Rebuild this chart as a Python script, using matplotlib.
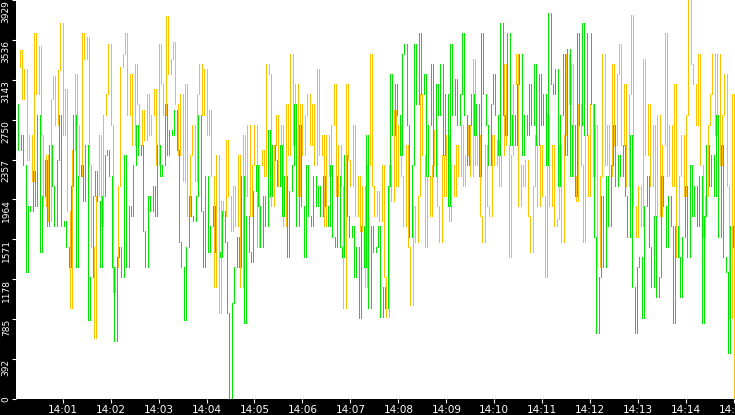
import matplotlib
matplotlib.use("Agg")
import matplotlib.pyplot as plt
import matplotlib.dates as mdates
import pandas as pd
import numpy as np

# ---- data (3-second samples) ----
orange_a = [3270, 3440, 2950, 3250, 2350, 2600, 2150, 3600, 3000, 3480,
            2600, 1900, 2400, 1750, 2950, 3180, 2700, 3240, 3700, 2600,
            3050, 1850, 900, 2450, 3200, 2700, 2200, 3600, 3350, 3560,
            2300, 1500, 600, 2000, 2600, 1700, 2800, 3000, 3500, 2700,
            1050, 1300, 2100, 3270, 3400, 3600, 2800, 3200, 2500, 3300,
            2900, 2500, 2850, 2550, 3000, 2600, 2800, 3050, 2300, 3500,
            3100, 2800, 3770, 3200, 3350, 3520, 2900, 2400, 3000, 2150,
            3100, 1800, 2400, 2700, 2150]
orange_b = [3000, 3300, 2800, 3250, 2600, 2850, 2200, 1100, 2400, 850,
            1950, 1800, 2550, 2000, 1650, 2100, 1700, 2400, 1100, 2600,
            2000, 2700, 1800, 2300, 2700, 1500, 2300, 2450, 2200, 3300,
            3200, 1900, 2500, 2800, 2100, 2700, 1700, 2900, 2400, 3400,
            2500, 3100, 2000, 2900, 2400, 2800, 3000, 2500, 2900, 2300,
            3250, 2400, 2600, 1700, 2600, 2200, 2700, 3100, 2000, 2500,
            2100, 900, 3100, 2350, 2100, 2700, 1800, 2200, 1650, 2100,
            1100, 2300, 3400, 2100, 1800]
orange_c = [2050, 1750, 2300, 1200, 810, 2300, 1950, 2850, 2100, 2700,
            2200, 1700, 2500, 1500, 930, 1900, 1550, 2000, 3000, 2400,
            1500, 2200, 1800, 2300, 2650, 1900, 1550, 2400, 2000, 2600,
            1750, 2300, 2000, 2500, 2200, 2700, 2100, 2400, 2700, 2200,
            3350, 2300, 2600, 1800, 1550, 2500, 1900, 1800, 2600, 2300,
            2550, 2100, 2400, 3300, 2500, 1400, 2400, 3100, 3400, 1900,
            2300, 2100, 2350, 1800, 1450, 2100, 2600, 1900, 2500, 2000,
            1200, 2800, 1900, 2500, 1700]
orange_d = [1770, 2500, 1550, 2600, 3400, 2900, 3300, 2200, 1950, 2900,
            2300, 1550, 2600, 2000, 2900, 2200, 2700, 1300, 2200, 3400,
            2300, 2700, 2200, 3300, 2500, 3200, 3500, 2500, 3100, 2100,
            3000, 3780, 1900, 1600, 2100, 1700, 3350, 2400, 2900, 2100,
            2700, 1800, 2800, 1800, 2500, 3600, 2200, 2700, 2100, 3100,
            1400, 2200, 2600, 2000, 2800, 3929, 3300, 3100, 2700, 3400,
            2300, 1600, 2000, 2700, 3000, 3400, 2600, 3400, 2300, 2800,
            3200, 2100, 800, 3000, 0]

green_a = [2900, 2450, 2600, 2300, 1250, 1900, 1850, 2250, 1900, 2800,
           1450, 2000, 2350, 1700, 2500, 2100, 1700, 2350, 2800, 1700,
           1750, 1500, 1300, 2100, 2800, 1300, 2200, 2300, 1950, 2500,
           780, 1200, 2000, 2250, 1950, 1300, 2000, 2400, 2450, 2200,
           1300, 570, 1400, 1500, 1200, 2400, 1300, 1900, 1800, 2300,
           2700, 2400, 2500, 1650, 1300, 2000, 1850, 2100, 1800, 2500,
           2200, 2300, 2900, 2400, 2650, 2600, 2850, 2450, 1550, 1300,
           780, 1500, 2000, 1800, 1750]
green_b = [2000, 2800, 1850, 1300, 2200, 1450, 1700, 1900, 1450, 1450,
           1400, 1850, 1550, 850, 0, 950, 1300, 1600, 1300, 2200,
           750, 1800, 1450, 1350, 2050, 2300, 1900, 1500, 2000, 1700,
           2650, 2000, 2500, 2350, 2100, 2500, 1800, 2200, 1400, 2050,
           2300, 2900, 1700, 2700, 1900, 1400, 2300, 1800, 1700, 2200,
           1900, 2100, 1800, 2200, 1900, 1700, 2300, 1600, 1500, 2200,
           1500, 1400, 2400, 1800, 1600, 1700, 1200, 1500, 800, 1700,
           1300, 2600, 900, 1700, 1450]
green_c = [1500, 1700, 810, 1100, 900, 2100, 3200, 2600, 3100, 2800,
           2400, 3400, 3500, 2700, 1600, 2300, 3500, 2900, 3600, 3000,
           3200, 2200, 2700, 3300, 2200, 3100, 2800, 3300, 2400, 3000,
           1900, 3500, 2800, 3150, 2700, 3000, 3600, 2800, 2300, 2700,
           3000, 2600, 2900, 2200, 3600, 3000, 2700, 2300, 2900, 3200,
           2800, 2400, 3700, 2800, 2600, 3600, 2500, 2800, 2500, 3100,
           3400, 2400, 2800, 2600, 3100, 2700, 3300, 2500, 3200, 2700,
           3000, 2300, 3800, 3100, 3000]
green_d = [3250, 2100, 2800, 3400, 2400, 3450, 2200, 2700, 2000, 3600,
           2700, 3700, 2600, 3600, 3600, 2900, 1600, 650, 1200, 2000,
           1300, 2200, 1700, 2300, 2700, 2100, 2400, 2200, 2500, 2000,
           1600, 2600, 1100, 650, 1300, 1400, 800, 1900, 2200, 1500,
           1100, 1800, 1000, 1200, 2200, 1900, 1500, 2000, 1700, 750,
           1700, 1400, 1000, 1600, 2100, 1400, 2300, 1800, 2100, 1700,
           2200, 750, 1800, 2500, 2100, 2400, 2000, 2800, 1600, 2500,
           1400, 1250, 450, 1700, 1500]

orange = orange_a + orange_b + orange_c + orange_d
green = green_a + green_b + green_c + green_d

y_ticks = [0, 392.9, 785.8, 1178.7, 1571.6, 1964.5, 2357.4, 2750.3, 3143.2, 3536.1, 3929]
y_tick_labels = ["0", "392", "785", "1178", "1571", "1964", "2357", "2750", "3143", "3536", "3929"]

orange_times = pd.date_range("2024-01-01 14:00:03", periods=len(orange), freq="3s")
green_times = pd.date_range("2024-01-01 14:00:01.5", periods=len(green), freq="3s")


def segments(vals):
    """each sample drawn as a vertical stroke from the previous sample to itself"""
    v = np.asarray(vals, dtype=float)
    prev = np.concatenate([[v[0]], v[:-1]])
    return np.minimum(prev, v), np.maximum(prev, v)


# ---- figure ----
W, H = 735, 415
fig = plt.figure(figsize=(W / 100, H / 100), dpi=100, facecolor="black")
ax = fig.add_axes([16 / W, 16 / H, 719 / W, 399 / H], facecolor="white")

g_lo, g_hi = segments(green)
o_lo, o_hi = segments(orange)
gc = ax.vlines(green_times, g_lo, g_hi, color="#00e600", lw=0.6, antialiased=False)
oc = ax.vlines(orange_times, o_lo, o_hi, color="#ffc000", lw=0.6, antialiased=False)
for c in (gc, oc):
    c.set_snap(True)

ax.set_ylim(0, 3929)
ax.set_xlim(pd.Timestamp("2024-01-01 14:00:01.6"), pd.Timestamp("2024-01-01 14:15:01.2"))

ax.set_yticks(y_ticks)
ax.set_yticklabels(y_tick_labels)
ax.xaxis.set_major_locator(mdates.MinuteLocator())
ax.xaxis.set_major_formatter(mdates.DateFormatter("%H:%M"))

for s in ax.spines.values():
    s.set_visible(False)

ax.tick_params(axis="both", colors="white", length=3, width=0.8, labelcolor="white")
ax.tick_params(axis="x", labelsize=7.5, pad=1.5)
ax.tick_params(axis="y", labelsize=6.5, pad=0.8, labelrotation=90)
labels = ax.get_yticklabels()
for lab in labels:
    lab.set_va("top")
labels[0].set_va("center")

fig.savefig("out.png", dpi=100, facecolor="black")
